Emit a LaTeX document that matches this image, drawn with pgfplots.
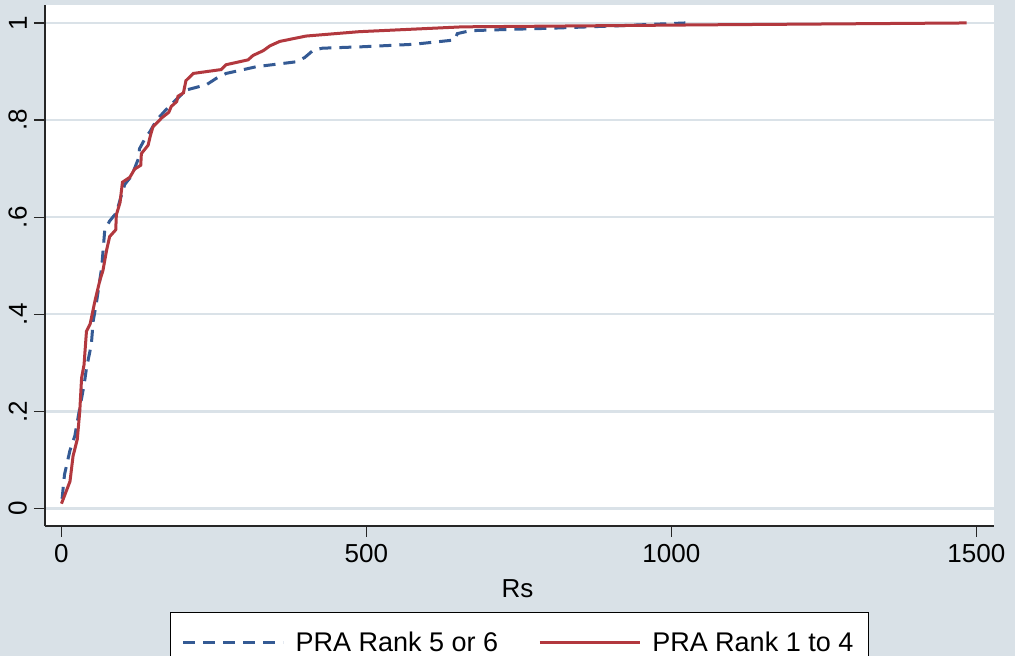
\documentclass[border=0pt]{standalone}
\usepackage{pgfplots}
\pgfplotsset{compat=1.18}
\usepackage{fontspec}
\setmainfont{Liberation Sans}
\definecolor{bgc}{RGB}{217,225,231}
\definecolor{gridc}{RGB}{218,226,232}
\definecolor{bluec}{RGB}{52,90,148}
\definecolor{redc}{RGB}{178,56,62}
\newcommand\myfont{\fontsize{13}{15.6}\selectfont}
\newcommand\legfont{\fontsize{13.5}{16}\selectfont}
\begin{document}
\begin{tikzpicture}
\fill[bgc] (0,0) rectangle (507.5pt,328pt);
\begin{axis}[
  at={(22.5pt,65pt)}, anchor=south west,
  scale only axis, width=474.5pt, height=260.5pt,
  xmin=-27, xmax=1529, ymin=-0.036, ymax=1.037,
  axis lines=left, axis line style={-, line width=0.6pt, color=black!85},
  axis background/.style={fill=white},
  xtick={0,500,1000,1500}, xticklabels={0,500,1000,1500},
  ytick={0,0.2,0.4,0.6,0.8,1}, yticklabels={0,.2,.4,.6,.8,1},
  tick align=outside, major tick length=5.5pt,
  tick style={line width=0.6pt, color=black!85},
  ymajorgrids, grid style={gridc, line width=1.2pt},
  yticklabel style={rotate=90, anchor=south, font=\myfont},
  xticklabel style={font=\myfont},
  xlabel={Rs},
  xlabel style={at={(axis description cs:0.498,-0.138)}, anchor=base, font=\myfont},
  legend style={at={(0.5,-0.165)}, anchor=north, draw=black, line width=0.5pt,
    fill=white, font=\legfont, inner xsep=5.5pt, inner ysep=7.5pt,
    /tikz/every even column/.append style={column sep=18pt},
    /tikz/every odd column/.append style={column sep=3.5pt}},
  legend columns=2,
  legend image code/.code={\draw[#1] (0pt,0pt) -- (50pt,0pt);},
]
\addplot[bluec, line width=1.5pt, dash pattern=on 6pt off 4pt] coordinates {
(1,0.02) (5,0.07) (14,0.12) (22,0.15) (29,0.2) (37,0.254) (41,0.289) (49,0.338)
(52,0.386) (57,0.421) (66,0.497) (71,0.574) (79,0.592) (90,0.609) (98,0.644)
(104,0.668) (115,0.685) (126,0.72) (128,0.741) (137,0.762) (145,0.776) (156,0.8)
(169,0.818) (188,0.842) (205,0.862) (238,0.873) (254,0.886) (270,0.896) (320,0.91)
(385,0.92) (399,0.929) (413,0.944) (428,0.948) (494,0.951) (577,0.956) (645,0.965)
(649,0.978) (670,0.984) (741,0.987) (800,0.989) (909,0.994) (1023,1.0)
};
\addlegendentry{PRA Rank 5 or 6}
\addplot[redc, line width=1.5pt] coordinates {
(0,0.01) (14,0.056) (19,0.108) (26,0.143) (30,0.2) (33,0.269) (37,0.296) (41,0.365)
(47,0.38) (55,0.428) (63,0.47) (68,0.49) (74,0.532) (79,0.56) (89,0.574) (90,0.605)
(96,0.63) (100,0.672) (112,0.682) (120,0.699) (130,0.707) (131,0.731) (142,0.748)
(146,0.769) (150,0.786) (164,0.804) (176,0.816) (180,0.828) (189,0.838) (191,0.849)
(200,0.856) (204,0.881) (216,0.896) (262,0.904) (270,0.914) (306,0.924) (314,0.933)
(331,0.943) (342,0.953) (358,0.962) (401,0.973) (488,0.982) (658,0.992) (854,0.994)
(1045,0.996) (1484,1.0)
};
\addlegendentry{PRA Rank 1 to 4}
\end{axis}
\pgfresetboundingbox
\useasboundingbox (0,0) rectangle (507.5pt,328pt);
\end{tikzpicture}
\end{document}
